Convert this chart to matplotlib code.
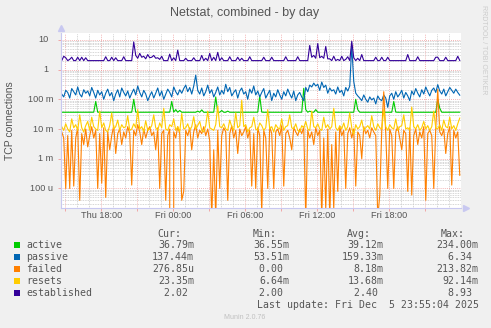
import numpy as np
import matplotlib.pyplot as plt
from matplotlib.patches import Rectangle
from matplotlib.ticker import FixedLocator, LogLocator, NullFormatter
from matplotlib.transforms import blended_transform_factory

plt.rcParams['font.family'] = ['Liberation Sans', 'DejaVu Sans']

# hours counted from Fri 00:00, one sample every 10 minutes
t_start = -9.3
step_h = 1 / 6.0

# values, in milli-connections
active_m = [36.6, 36.6, 36.7, 36.6, 36.6, 36.6, 36.7, 36.6, 36.6, 36.6, 36.6, 36.7, 36.6, 36.6, 36.6, 36.6, 36.7, 85, 36.7, 36.6,
            36.6, 36.6, 36.6, 36.7, 36.6, 36.6, 36.6, 36.6, 36.7, 36.6, 36.6, 36.6, 36.6, 36.6, 36.7, 36.6, 100, 37, 36.6, 36.6,
            36.6, 36.6, 36.7, 36.6, 36.6, 36.55, 36.6, 36.6, 36.6, 36.7, 36.6, 36.6, 36.6, 36.6, 36.8, 85, 37, 45, 36.6, 42,
            36.6, 36.6, 36.6, 36.7, 36.6, 36.6, 36.6, 36.6, 40, 36.6, 44, 36.6, 36.6, 36.7, 36.6, 36.6, 36.6, 120, 37, 36.6,
            42, 36.6, 36.6, 40, 36.6, 36.6, 36.7, 36.6, 36.6, 36.6, 36.6, 36.6, 36.7, 36.6, 36.6, 36.6, 36.6, 36.6, 36.7, 130,
            37, 36.6, 36.6, 36.6, 36.6, 36.7, 36.6, 36.6, 36.6, 36.6, 36.6, 36.7, 36.6, 36.6, 36.6, 36.6, 36.6, 36.6, 36.7, 36.6,
            36.6, 234, 45, 36.6, 40, 36.6, 36.6, 45, 36.6, 36.6, 36.7, 36.6, 36.6, 36.6, 36.6, 36.6, 36.7, 36.6, 36.6, 36.6,
            36.6, 36.6, 36.7, 36.6, 36.6, 36.6, 36.6, 100, 45, 36.6, 36.6, 36.6, 36.7, 36.6, 36.6, 36.6, 36.6, 36.6, 36.7, 36.6,
            36.6, 36.6, 36.6, 36.7, 36.6, 36.6, 85, 37, 36.6, 36.6, 36.6, 36.7, 36.6, 36.6, 36.6, 36.6, 36.6, 36.7, 36.6, 36.6,
            36.6, 36.6, 36.7, 36.6, 36.6, 36.6, 36.6, 36.6, 100, 50, 36.6, 36.6, 36.7, 36.6, 36.6, 36.6, 36.6, 36.6, 36.6, 36.79]
passive_m = [150, 120, 200, 170, 110, 230, 180, 140, 260, 150, 120, 210, 160, 190, 130, 250, 170, 110, 200, 140,
             180, 100, 160, 220, 130, 170, 90, 150, 210, 120, 240, 170, 130, 190, 110, 160, 220, 140, 280, 170,
             120, 200, 150, 90, 130, 180, 110, 160, 240, 130, 190, 100, 150, 220, 170, 120, 260, 180, 140, 210,
             160, 230, 300, 180, 250, 150, 280, 650, 200, 150, 240, 130, 180, 300, 160, 210, 120, 170, 260, 140,
             200, 150, 320, 180, 250, 130, 170, 210, 110, 190, 240, 150, 180, 100, 220, 160, 280, 140, 190, 120,
             170, 230, 110, 150, 200, 90, 160, 120, 210, 140, 100, 180, 130, 220, 150, 110, 190, 90, 140, 170,
             120, 90, 250, 180, 300, 260, 350, 280, 320, 200, 380, 250, 300, 160, 240, 190, 210, 150, 260, 170,
             200, 130, 250, 190, 280, 6340, 400, 160, 130, 110, 90, 140, 100, 80, 120, 95, 110, 70, 130, 100,
             90, 140, 110, 53.51, 130, 160, 100, 180, 120, 150, 200, 110, 170, 130, 90, 190, 140, 230, 160, 120,
             210, 150, 260, 180, 130, 200, 240, 170, 310, 190, 150, 220, 130, 180, 250, 200, 160, 220, 170, 137.44]
failed_m = [8, 5, 0.1, 6, 0.1, 9, 0.12, 5, 11, 0.04,
            7, 3, 10, 2.5, 6, 12, 5, 9, 0.1, 7,
            0.15, 11, 0.05, 8, 2, 6, 13, 1.5, 7, 10,
            3, 8, 5, 12, 7, 0.13, 9, 6, 14, 8,
            3, 10, 5, 9, 12, 6, 8, 2, 11, 0.1,
            7, 9, 0.04, 6, 10, 0.0, 8, 5, 12, 7,
            0.04, 0.08, 9, 6, 11, 2, 8, 14, 5, 9,
            7, 12, 6, 10, 4, 0.01, 2, 0.01, 9, 0.1,
            6, 11, 8, 0.04, 7, 13, 5, 9, 1.5, 10,
            6, 8, 12, 5, 9, 0.12, 7, 0.1, 11, 6,
            0.015, 9, 5, 0.1, 12, 7, 0.1, 8, 10, 6,
            13, 0.12, 7, 9, 5, 2, 11, 8, 6, 10,
            7, 12, 0.01, 9, 5, 8, 3, 11, 6, 9,
            0.01, 5, 0.02, 10, 0.01, 3, 0.02, 8, 0.08, 12,
            6, 9, 0.1, 7, 11, 5, 10, 0.12, 8, 6,
            1, 12, 7, 9, 5, 11, 8, 6, 0.01, 0.06,
            9, 180, 7, 0.1, 10, 6, 0.1, 8, 12, 5,
            2, 9, 7, 0.08, 11, 0.06, 6, 10, 3, 8,
            5, 12, 0.04, 7, 9, 6, 0.1, 11, 213.82, 8,
            6, 10, 1.5, 7, 12, 0.13, 9, 5, 8, 0.2769]
resets_m = [12, 9, 15, 10, 8, 22, 11, 14, 9, 30,
            11, 8, 13, 18, 9, 25, 12, 10, 9, 40,
            11, 16, 9, 8, 13, 35, 10, 12, 20, 9,
            14, 11, 12, 28, 9, 10, 15, 11, 45, 10,
            12, 8, 19, 9, 10, 13, 30, 11, 9, 16,
            11, 50, 10, 9, 14, 12, 22, 9, 12, 8,
            33, 10, 11, 15, 9, 12, 26, 10, 13, 18,
            9, 8, 13, 40, 11, 10, 9, 14, 60, 12,
            11, 15, 10, 9, 20, 12, 9, 35, 11, 13,
            92.14, 12, 14, 8, 11, 12, 25, 10, 9, 16,
            13, 9, 11, 45, 10, 12, 8, 14, 11, 10,
            22, 9, 12, 13, 30, 11, 10, 15, 9, 8,
            13, 11, 18, 10, 9, 40, 12, 11, 15, 10,
            9, 25, 11, 14, 10, 12, 50, 11, 9, 13,
            10, 16, 9, 12, 35, 11, 6.64, 14, 10, 12,
            20, 9, 11, 13, 10, 28, 12, 9, 15, 11,
            10, 45, 12, 9, 14, 11, 10, 22, 9, 12,
            13, 30, 10, 11, 9, 55, 12, 10, 14, 9,
            11, 18, 10, 13, 9, 12, 40, 11, 10, 14,
            9, 20, 12, 11, 25, 10, 13, 9, 15, 23.35]
established = [2.0, 2.8, 2.5, 2.0, 2.2, 2.6, 2.0, 2.0, 2.6, 2.0, 2.6, 2.0, 2.5, 2.0, 2.0, 2.0, 2.0, 2.0, 2.0, 2.0,
               2.0, 2.0, 2.7, 2.0, 2.0, 2.6, 2.0, 2.5, 2.0, 2.0, 2.0, 2.7, 2.0, 2.0, 2.0, 2.0, 8.5, 3.0, 2.4, 3.5,
               2.6, 2.8, 2.3, 3.2, 2.5, 2.6, 3.0, 2.4, 2.5, 2.2, 2.8, 2.0, 2.0, 2.0, 3.3, 2.0, 2.5, 2.0, 4.5, 2.0,
               2.0, 2.0, 2.4, 2.0, 2.0, 2.0, 2.5, 2.0, 2.0, 2.0, 3.0, 2.0, 2.4, 2.0, 3.5, 2.0, 2.6, 2.0, 3.8, 2.0,
               2.5, 2.0, 2.0, 2.0, 2.7, 2.0, 2.0, 2.0, 2.6, 2.0, 2.4, 2.0, 2.0, 2.0, 2.7, 2.0, 2.0, 2.0, 2.0, 2.0,
               2.0, 2.6, 2.0, 2.0, 2.0, 2.6, 2.0, 2.0, 2.0, 2.0, 2.0, 2.0, 2.7, 2.0, 2.0, 2.0, 2.0, 2.0, 2.7, 2.0,
               2.0, 2.0, 2.0, 2.0, 6.5, 2.6, 3.0, 2.4, 7.5, 2.5, 2.8, 2.4, 6.0, 2.3, 2.3, 2.0, 2.8, 2.0, 2.2, 2.0,
               2.8, 2.0, 2.2, 2.7, 2.0, 8.93, 2.5, 2.0, 2.4, 2.0, 3.2, 2.0, 2.0, 2.0, 2.0, 2.0, 2.0, 2.6, 2.0, 2.0,
               2.6, 2.0, 2.0, 2.6, 2.0, 2.0, 2.0, 2.0, 2.0, 2.0, 2.0, 2.0, 2.0, 3.2, 2.0, 2.0, 2.0, 2.0, 2.7, 2.0,
               2.0, 2.0, 2.0, 2.0, 2.0, 2.0, 2.0, 2.6, 2.6, 2.0, 2.0, 2.0, 2.6, 2.0, 2.0, 2.0, 2.0, 2.0, 2.8, 2.02]

names = ['active', 'passive', 'failed', 'resets', 'established']
colors = ['#00CC00', '#0066B3', '#FF8000', '#FFCC00', '#330099']
cur = ['36.79m', '137.44m', '276.85u', '23.35m', '2.02 ']
vmin = ['36.55m', '53.51m', '0.00 ', '6.64m', '2.00 ']
vavg = ['39.12m', '159.33m', '8.18m', '13.68m', '2.40 ']
vmax = ['234.00m', '6.34 ', '213.82m', '92.14m', '8.93 ']

x_ticks = [-6, 0, 6, 12, 18]
x_labels = ['Thu 18:00', 'Fri 00:00', 'Fri 06:00', 'Fri 12:00', 'Fri 18:00']
y_ticks = [1e-4, 1e-3, 1e-2, 1e-1, 1, 10]
y_labels = ['100 u', '1 m', '10 m', '100 m', '1', '10']

series = [np.array(active_m) / 1000, np.array(passive_m) / 1000,
          np.array(failed_m) / 1000, np.array(resets_m) / 1000,
          np.array(established)]

W, H = 491, 328
fig = plt.figure(figsize=(W / 100, H / 100), dpi=100, facecolor='#F0F0F0')
ax = fig.add_axes([61 / W, (H - 208) / H, 400 / W, 175 / H])
ax.set_facecolor('white')


def fx(x):
    return x / W


def fy(y):
    return 1 - y / H


txt = '#555555'
red = '#F09A9A'
grey = '#C8C8C8'

ax.set_yscale('log')
ax.set_ylim(2.2e-5, 17)
ax.set_xlim(-9.36, 23.97)

ax.xaxis.set_major_locator(FixedLocator(np.arange(-9, 24, 3)))
ax.xaxis.set_minor_locator(FixedLocator(np.arange(-9, 24, 1)))
ax.yaxis.set_major_locator(FixedLocator(y_ticks))
ax.yaxis.set_minor_locator(LogLocator(base=10, subs=np.arange(2, 10)))
ax.xaxis.set_major_formatter(NullFormatter())
ax.yaxis.set_major_formatter(NullFormatter())
ax.yaxis.set_minor_formatter(NullFormatter())

ax.grid(True, which='minor', color=grey, lw=0.6, ls=(0, (1, 1)))
ax.grid(True, which='major', color=red, lw=0.6, ls=(0, (1, 1.5)))
ax.set_axisbelow(True)
ax.tick_params(which='both', length=0)
ax.tick_params(which='major', length=2, color=red, width=0.6)

for s in ['top', 'right']:
    ax.spines[s].set_visible(False)
for s in ['left', 'bottom']:
    ax.spines[s].set_color('#C8C8F0')
    ax.spines[s].set_linewidth(0.8)
ax.plot([0], [1.03], marker='^', ms=4, color='#C8C8F0', transform=ax.transAxes, clip_on=False)
ax.plot([1.012], [0], marker='>', ms=4, color='#C8C8F0', transform=ax.transAxes, clip_on=False)

for vals, c in zip(series, colors):
    t = t_start + step_h * np.arange(len(vals))
    ax.plot(t, vals, color=c, lw=0.8)

# tick labels
bx = blended_transform_factory(ax.transData, fig.transFigure)
for xt, lab in zip(x_ticks, x_labels):
    ax.text(xt, fy(218.3), lab, transform=bx, ha='center', va='baseline',
            fontsize=6.6, color=txt)
by = blended_transform_factory(fig.transFigure, ax.transData)
for yt, lab in zip(y_ticks, y_labels):
    xr = 53.5 if ' ' in lab else 48.5
    ax.text(fx(xr), yt, lab, transform=by, ha='right', va='center', fontsize=6.6, color=txt)

fig.text(fx(245), fy(16), 'Netstat, combined - by day', ha='center', va='baseline',
         fontsize=9, color=txt)
fig.text(fx(10), fy(120.5), 'TCP connections', ha='center', va='center', rotation=90,
         fontsize=7.5, color=txt)
fig.text(fx(484), fy(5), 'RRDTOOL / TOBI OETIKER', ha='center', va='top', rotation=270,
         fontsize=5, color='#CCCCCC')

# legend block
mono = 'DejaVu Sans Mono'
fsz = 7.14
cw = 0.602 * fsz * 100 / 72
for x0, head in zip([157.7, 252.3, 346.7, 441], ['Cur:', 'Min:', 'Avg:', 'Max:']):
    fig.text(fx(x0), fy(236.7), head, family=mono, fontsize=fsz, color=txt, va='baseline')
rows_y = [247.7, 260, 272, 284.2, 296.2]
ends = [194, 289, 383.5, 478]
for i, name in enumerate(names):
    yb = rows_y[i]
    fig.patches.append(Rectangle((fx(14), fy(yb)), 6 / W, 6 / H, transform=fig.transFigure,
                                 facecolor=colors[i], edgecolor='none'))
    fig.text(fx(26.3), fy(yb), name, family=mono, fontsize=fsz, color=txt, va='baseline')
    for col, e in zip([cur, vmin, vavg, vmax], ends):
        s = col[i]
        fig.text(fx(e - len(s) * cw), fy(yb), s, family=mono, fontsize=fsz, color=txt, va='baseline')
last = 'Last update: Fri Dec  5 23:55:04 2025'
fig.text(fx(478 - len(last) * cw), fy(307.8), last, family=mono, fontsize=fsz, color=txt, va='baseline')
fig.text(fx(245), fy(319), 'Munin 2.0.76', ha='center', va='baseline', fontsize=5, color='#C0C0C0')

fig.savefig('out.png', dpi=100, facecolor=fig.get_facecolor())
